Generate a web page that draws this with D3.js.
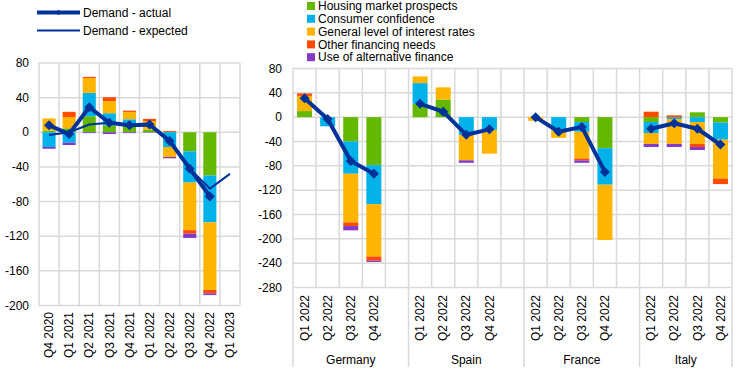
<!DOCTYPE html>
<html>
<head>
<meta charset="utf-8">
<script src="https://cdn.jsdelivr.net/npm/d3@7"></script>
<style>
  body { margin: 0; background: #fff; }
  svg { font-family: "Liberation Sans", Arial, sans-serif; font-size: 12px; }
</style>
</head>
<body>
<svg id="chart" width="744" height="384"></svg>
<script>
// ---------------- data ----------------

var factors = ["Housing market prospects", "Consumer confidence", "General level of interest rates",
               "Other financing needs", "Use of alternative finance"];
var factorColors = ["#65b800", "#00b1ea", "#ffb400", "#ff4b00", "#8139c6"];
var lineColor = "#003299";

// euro area panel
var euroQuarters = ["Q4 2020", "Q1 2021", "Q2 2021", "Q3 2021", "Q4 2021",
                    "Q1 2022", "Q2 2022", "Q3 2022", "Q4 2022", "Q1 2023"];
var euroHousing   = [2, 4.6, 18.5, 8, 10, 3, 0.5, -22, -50, 0];
var euroConfid    = [-17, -12, 27, 14, 5, 0, -17, -36, -54, 0];
var euroRates     = [14, 13, 17, 14, 8.5, 10, -11.5, -55, -78, 0];
var euroOther     = [0, 6, 1.5, 4.5, 1.5, 2.5, 1, -4, -4, 0];
var euroAltFin    = [-2, -2.7, -1, -2, -1, -0.5, -1.5, -5, -2, 0];
var euroActual    = [8, -2, 29, 11, 8, 9, -10, -42, -74, null];
var euroExpected  = [-3, 0, 9, 11, 7, 8, -10, -42, -65, -48];
var euroTicks     = [80, 40, 0, -40, -80, -120, -160, -200];

// country panel
var countries = ["Germany", "Spain", "France", "Italy"];
var ctyQuarters = ["Q1 2022", "Q2 2022", "Q3 2022", "Q4 2022"];
// values by country, then quarter
var ctyHousing = [10, 0, -40, -79,   22, 29, 0, 0,      0, 0, -8, -51,     -8, 0, 8, -9];
var ctyConfid  = [0, -15, -53, -64,  34, 0, -29, -21,   0, -22, -16, -60,  -18, -3, -8, -28];
var ctyRates   = [25, 0, -80, -86,   11, 20, -42, -39,  -6, -12, -44, -91, -18, -41, -36, -64];
var ctyOther   = [4, 0, -6, -7,      0, 0, 0, 0,        0, 0, -3, 0,       9, 3, -5, -9];
var ctyAltFin  = [0, 0, -7, -2,      0, 0, -4, 0,       0, 0, -4, 0,       -5, -5, -5, 0];
var ctyActual  = [31, -3, -72, -93,  22, 9, -29, -20,   0, -24, -16, -90,  -19, -10, -19, -45];
var ctyTicks   = [80, 40, 0, -40, -80, -120, -160, -200, -240, -280];

// ---------------- helpers ----------------

var svg = d3.select("#chart");
var gridColor = "#d9d9d9";

function buildRows(keys, cols) {
    return keys.map(function(k, i) {
        var row = { key: k };
        factors.forEach(function(f, j) { row[f] = cols[j][i]; });
        return row;
    });
}

function drawPanel(opt) {
    var g = svg.append("g");
    var x = opt.x, y = opt.y;

    // horizontal grid + y labels
    g.selectAll(".hgrid").data(opt.ticks).enter().append("line")
        .attr("x1", x.range()[0]).attr("x2", x.range()[1])
        .attr("y1", d => y(d)).attr("y2", d => y(d))
        .attr("stroke", gridColor).attr("stroke-width", 1.5);

    g.selectAll(".ylab").data(opt.ticks).enter().append("text")
        .attr("x", opt.labelX).attr("y", d => y(d)).attr("dy", "0.35em")
        .attr("text-anchor", "end").attr("fill", "#000")
        .text(d => d);

    // vertical grid at slot edges
    var step = x.step();
    var edges = d3.range(x.domain().length + 1).map(i => x.range()[0] + i * step);
    g.selectAll(".vgrid").data(edges).enter().append("line")
        .attr("x1", d => d).attr("x2", d => d)
        .attr("y1", y.range()[0]).attr("y2", y.range()[1])
        .attr("stroke", gridColor).attr("stroke-width", 1.5);

    // stacked bars
    var stack = d3.stack().keys(factors).offset(d3.stackOffsetDiverging)(opt.rows);
    g.selectAll(".series").data(stack).enter().append("g")
        .attr("fill", (d, i) => factorColors[i])
        .selectAll("rect").data(d => d).enter().append("rect")
            .attr("x", d => x(d.data.key))
            .attr("width", x.bandwidth())
            .attr("y", d => y(Math.max(d[0], d[1])))
            .attr("height", d => Math.abs(y(d[0]) - y(d[1])));

    return g;
}

function drawLine(g, pts, width, markers) {
    var line = d3.line().defined(d => d.v != null).x(d => d.x).y(d => d.y);
    g.append("path").datum(pts)
        .attr("d", line)
        .attr("fill", "none").attr("stroke", lineColor)
        .attr("stroke-width", width).attr("stroke-linejoin", "round");
    if (markers) {
        g.selectAll(null).data(pts.filter(d => d.v != null)).enter().append("path")
            .attr("d", d3.symbol().type(d3.symbolDiamond2).size(64))
            .attr("transform", d => `translate(${d.x},${d.y})`)
            .attr("fill", lineColor);
    }
}

// ---------------- euro area panel ----------------

var xE = d3.scaleBand().domain(euroQuarters).range([39, 240]).paddingInner(0.35).paddingOuter(0.175);
var yE = d3.scaleLinear().domain([-200, 80]).range([305.5, 63]);
var gE = drawPanel({
    x: xE, y: yE, ticks: euroTicks, labelX: 29,
    rows: buildRows(euroQuarters, [euroHousing, euroConfid, euroRates, euroOther, euroAltFin])
});

var cE = d => xE(d) + xE.bandwidth() / 2;
drawLine(gE, euroQuarters.map((q, i) => ({ x: cE(q), y: yE(euroExpected[i]), v: euroExpected[i] })), 2, false);
drawLine(gE, euroQuarters.map((q, i) => ({ x: cE(q), y: yE(euroActual[i]), v: euroActual[i] })), 4, true);

gE.selectAll(".xlab").data(euroQuarters).enter().append("text")
    .attr("transform", d => `translate(${cE(d)},312) rotate(-90)`)
    .attr("text-anchor", "end").attr("dy", "0.35em")
    .text(d => d);

// ---------------- country panel ----------------

var ctyKeys = [];
var slots = [];
countries.forEach(function(c, ci) {
    ctyQuarters.forEach(function(q) { ctyKeys.push(c + "|" + q); slots.push(c + "|" + q); });
    if (ci < countries.length - 1) slots.push(c + "|gap");
});

var xC = d3.scaleBand().domain(slots).range([293, 732]).paddingInner(0.35).paddingOuter(0.175);
var yC = d3.scaleLinear().domain([-280, 80]).range([287.5, 68.5]);
var gC = drawPanel({
    x: xC, y: yC, ticks: ctyTicks, labelX: 282,
    rows: buildRows(ctyKeys, [ctyHousing, ctyConfid, ctyRates, ctyOther, ctyAltFin])
});

var cC = d => xC(d) + xC.bandwidth() / 2;
countries.forEach(function(c, ci) {
    var pts = ctyQuarters.map((q, qi) => {
        var v = ctyActual[ci * 4 + qi];
        return { x: cC(c + "|" + q), y: yC(v), v: v };
    });
    drawLine(gC, pts, 4, true);
});

gC.selectAll(".xlab").data(ctyKeys).enter().append("text")
    .attr("transform", d => `translate(${cC(d)},295) rotate(-90)`)
    .attr("text-anchor", "end").attr("dy", "0.35em")
    .text(d => d.split("|")[1]);

// country group separators and names
var step = xC.step();
var groupEdges = [0, 5, 10, 15, 19].map(i => 293 + i * step);
gC.selectAll(".sep").data(groupEdges).enter().append("line")
    .attr("x1", d => d).attr("x2", d => d)
    .attr("y1", 287.5).attr("y2", 367)
    .attr("stroke", gridColor).attr("stroke-width", 1.5);

gC.selectAll(".cty").data(countries).enter().append("text")
    .attr("x", (d, i) => (groupEdges[i] + groupEdges[i + 1]) / 2)
    .attr("y", 364)
    .attr("text-anchor", "middle")
    .text(d => d);

// ---------------- legends ----------------

var legL = svg.append("g");
legL.append("line").attr("x1", 37).attr("x2", 80).attr("y1", 12.5).attr("y2", 12.5)
    .attr("stroke", lineColor).attr("stroke-width", 4);
legL.append("path").attr("d", d3.symbol().type(d3.symbolDiamond2).size(20))
    .attr("transform", "translate(58.5,12.5)").attr("fill", lineColor);
legL.append("text").attr("x", 83).attr("y", 12.5).attr("dy", "0.35em").text("Demand - actual");
legL.append("line").attr("x1", 37).attr("x2", 80).attr("y1", 30.5).attr("y2", 30.5)
    .attr("stroke", lineColor).attr("stroke-width", 2);
legL.append("text").attr("x", 83).attr("y", 30.5).attr("dy", "0.35em").text("Demand - expected");

var legR = svg.append("g").selectAll("g").data(factors).enter().append("g")
    .attr("transform", (d, i) => `translate(307,${6 + i * 12.8})`);
legR.append("rect").attr("x", 0).attr("y", -4).attr("width", 8).attr("height", 8)
    .attr("fill", (d, i) => factorColors[i]);
legR.append("text").attr("x", 11).attr("y", 0).attr("dy", "0.35em").text(d => d);
</script>
</body>
</html>
